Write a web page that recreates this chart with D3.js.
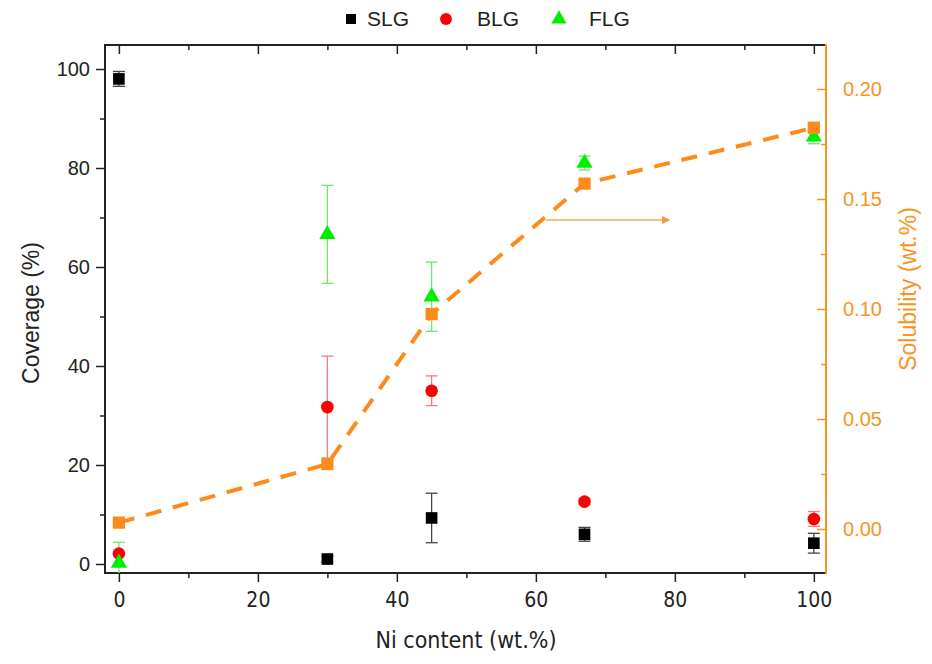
<!DOCTYPE html>
<html>
<head>
<meta charset="utf-8">
<script src="https://cdn.jsdelivr.net/npm/d3@7"></script>
<style>
  body { margin: 0; background: #fff; }
  text { font-family: "Liberation Sans", Arial, sans-serif; }
</style>
</head>
<body>
<div id="chart"></div>
<script>
// Ni content (wt.%)
const niContent = [0, 30, 45, 67, 100]

// coverage (%) with error
const slg = [98, 1.0, 9.3, 6.0, 4.2]
const slgErr = [1.5, 0.6, 5.0, 1.4, 2.0]
const blg = [2.1, 31.7, 35.0, 12.6, 9.1]
const blgErr = [0, 10.3, 3.0, 0.6, 1.5]
const flg = [0.2, 66.6, 54.0, 81.0, 86.3]
const flgErr = [4.2, 9.9, 7.0, 1.4, 1.4]

// solubility (wt.%) on right axis
const solubility = [0.0029, 0.0295, 0.0977, 0.157, 0.1824]

const xTicks = [0, 20, 40, 60, 80, 100]
const xMinor = [10, 30, 50, 70, 90]
const yTicks = [0, 20, 40, 60, 80, 100]
const yMinor = [10, 30, 50, 70, 90]
const y2Ticks = [0, 0.05, 0.10, 0.15, 0.20]
const y2Minor = [0.025, 0.075, 0.125, 0.175]

// annotation arrow pointing to right axis (x from, x to, solubility level)
const arrowFrom = 61.5, arrowTo = 79.2, arrowAt = 0.1405

function drawChart() {
   const width = 932,
         height = 664,
         left = 105, right = 826, top = 45, bottom = 573

   const orange = "#ff8a1c",
         axisOrange = "#f7941d"

   const x = d3.scaleLinear().domain([-2.0, 101.75]).range([left, right])
   const y = d3.scaleLinear().domain([-1.82, 104.85]).range([bottom, top])
   const y2 = d3.scaleLinear().domain([-0.02, 0.22]).range([bottom, top])

   const svg = d3.select("#chart")
                 .append("svg")
                 .attr("width", width)
                 .attr("height", height)

   svg.append("defs").append("clipPath").attr("id", "plotclip")
      .append("rect").attr("x", left).attr("y", top)
      .attr("width", right - left).attr("height", bottom - top)

   // bottom axis
   const xAxis = svg.append("g").attr("transform", "translate(0," + bottom + ")")
                    .call(d3.axisBottom(x).tickValues(xTicks).tickSize(9).tickSizeOuter(0).tickFormat(d3.format("d")))
   xAxis.select(".domain").remove()
   xAxis.selectAll(".tick line").attr("stroke", "#222").attr("stroke-width", 1.5)
   xAxis.selectAll(".tick text").attr("font-size", 21).attr("fill", "#222").attr("dy", "1.05em")
        .style("font-family", "'Liberation Sans Narrow', 'DejaVu Sans Condensed', sans-serif")
   svg.append("g").attr("transform", "translate(0," + bottom + ")")
      .call(d3.axisBottom(x).tickValues(xMinor).tickSize(5).tickFormat(""))
      .call(g => g.select(".domain").remove())
      .selectAll("line").attr("stroke", "#222").attr("stroke-width", 1.5)

   // top inward ticks
   svg.append("g").attr("transform", "translate(0," + top + ")")
      .call(d3.axisBottom(x).tickValues(xTicks).tickSize(9).tickFormat(""))
      .call(g => g.select(".domain").remove())
      .selectAll("line").attr("stroke", "#222").attr("stroke-width", 1.5)
   svg.append("g").attr("transform", "translate(0," + top + ")")
      .call(d3.axisBottom(x).tickValues(xMinor).tickSize(5).tickFormat(""))
      .call(g => g.select(".domain").remove())
      .selectAll("line").attr("stroke", "#222").attr("stroke-width", 1.5)

   // left axis
   const yAxis = svg.append("g").attr("transform", "translate(" + left + ",0)")
                    .call(d3.axisLeft(y).tickValues(yTicks).tickSize(9).tickSizeOuter(0))
   yAxis.select(".domain").remove()
   yAxis.selectAll(".tick line").attr("stroke", "#222").attr("stroke-width", 1.5)
   yAxis.selectAll(".tick text").attr("font-size", 20).attr("fill", "#222").attr("dx", "-0.15em")
   svg.append("g").attr("transform", "translate(" + left + ",0)")
      .call(d3.axisLeft(y).tickValues(yMinor).tickSize(5).tickFormat(""))
      .call(g => g.select(".domain").remove())
      .selectAll("line").attr("stroke", "#222").attr("stroke-width", 1.5)

   // right axis, orange, ticks inward
   const y2Axis = svg.append("g").attr("transform", "translate(" + right + ",0)")
                     .call(d3.axisLeft(y2).tickValues(y2Ticks).tickSize(9).tickSizeOuter(0).tickFormat(d3.format(".2f")))
   y2Axis.select(".domain").remove()
   y2Axis.selectAll(".tick line").attr("stroke", axisOrange).attr("stroke-width", 1.5)
   y2Axis.selectAll(".tick text").attr("font-size", 20).attr("fill", axisOrange)
         .attr("text-anchor", "start").attr("x", 17)
   svg.append("g").attr("transform", "translate(" + right + ",0)")
      .call(d3.axisLeft(y2).tickValues(y2Minor).tickSize(5).tickFormat(""))
      .call(g => g.select(".domain").remove())
      .selectAll("line").attr("stroke", axisOrange).attr("stroke-width", 1.5)

   // frame
   const frame = svg.append("g").attr("stroke-width", 2).attr("fill", "none")
   frame.append("path").attr("d", "M" + right + "," + top + "H" + left + "V" + bottom + "H" + right)
        .attr("stroke", "#222")
   frame.append("line").attr("x1", right).attr("x2", right).attr("y1", top - 1).attr("y2", bottom + 1)
        .attr("stroke", axisOrange)

   // axis titles
   svg.append("text").attr("transform", "translate(39," + ((top + bottom) / 2 + 4) + ") rotate(-90)")
      .attr("text-anchor", "middle").attr("font-size", 23).attr("fill", "#222").text("Coverage (%)")
   svg.append("text").attr("transform", "translate(916," + ((top + bottom) / 2 - 20) + ") rotate(-90)")
      .attr("text-anchor", "middle").attr("font-size", 23).attr("fill", axisOrange).text("Solubility (wt.%)")
   svg.append("text").attr("x", 466).attr("y", 648)
      .attr("text-anchor", "middle").attr("font-size", 23).attr("fill", "#222")
      .style("font-family", "'Liberation Sans Narrow', 'DejaVu Sans Condensed', sans-serif")
      .text("Ni content (wt.%)")

   // error bars
   function errorBars(vals, errs, color) {
      const g = svg.append("g").attr("stroke", color).attr("stroke-width", 1.3)
                   .attr("clip-path", "url(#plotclip)")
      niContent.forEach((n, i) => {
         if (!errs[i]) return
         const cx = x(n), y0 = y(vals[i] - errs[i]), y1 = y(vals[i] + errs[i])
         g.append("line").attr("x1", cx).attr("x2", cx).attr("y1", y0).attr("y2", y1)
         g.append("line").attr("x1", cx - 6).attr("x2", cx + 6).attr("y1", y0).attr("y2", y0)
         g.append("line").attr("x1", cx - 6).attr("x2", cx + 6).attr("y1", y1).attr("y2", y1)
      })
   }
   errorBars(flg, flgErr, "#66ee66")
   errorBars(blg, blgErr, "#ff7777")
   errorBars(slg, slgErr, "#444")

   // solubility dashed line
   const line = d3.line().x((d, i) => x(niContent[i])).y(d => y2(d))
   svg.append("path").datum(solubility).attr("d", line)
      .attr("fill", "none").attr("stroke", orange).attr("stroke-width", 4)
      .attr("stroke-dasharray", "16,12")

   // markers
   const sym = (type, size) => d3.symbol().type(type).size(size)()

   svg.selectAll(".slg").data(slg).enter().append("path")
      .attr("d", sym(d3.symbolSquare, 135))
      .attr("transform", (d, i) => "translate(" + x(niContent[i]) + "," + y(d) + ")")
      .attr("fill", "#000")

   svg.selectAll(".blg").data(blg).enter().append("path")
      .attr("d", sym(d3.symbolCircle, 125))
      .attr("transform", (d, i) => "translate(" + x(niContent[i]) + "," + y(d) + ")")
      .attr("fill", "#ff0000")

   svg.selectAll(".flg").data(flg).enter().append("path")
      .attr("d", sym(d3.symbolTriangle, 115))
      .attr("transform", (d, i) => "translate(" + x(niContent[i]) + "," + y(d) + ")")
      .attr("fill", "#00ee00")

   svg.selectAll(".sol").data(solubility).enter().append("path")
      .attr("d", sym(d3.symbolSquare, 150))
      .attr("transform", (d, i) => "translate(" + x(niContent[i]) + "," + y2(d) + ")")
      .attr("fill", orange)

   // arrow annotation
   svg.select("defs").append("marker").attr("id", "arrowhead")
      .attr("viewBox", "0 0 10 10").attr("refX", 9).attr("refY", 5)
      .attr("markerWidth", 10).attr("markerHeight", 8).attr("orient", "auto")
      .attr("markerUnits", "userSpaceOnUse")
      .append("path").attr("d", "M0,0 L10,5 L0,10 z").attr("fill", "#f5983c")
   svg.append("line")
      .attr("x1", x(arrowFrom)).attr("x2", x(arrowTo))
      .attr("y1", y2(arrowAt)).attr("y2", y2(arrowAt))
      .attr("stroke", "#f7a55a").attr("stroke-width", 1.5)
      .attr("marker-end", "url(#arrowhead)")

   // legend
   const legend = [
      {name: "SLG", type: d3.symbolSquare, size: 100, color: "#000", sx: 351, tx: 367},
      {name: "BLG", type: d3.symbolCircle, size: 110, color: "#ff0000", sx: 446, tx: 477},
      {name: "FLG", type: d3.symbolTriangle, size: 100, color: "#00ee00", sx: 559, tx: 589}
   ]
   const lg = svg.append("g")
   legend.forEach(l => {
      lg.append("path").attr("d", sym(l.type, l.size))
        .attr("transform", "translate(" + l.sx + ",19)").attr("fill", l.color)
      lg.append("text").attr("x", l.tx).attr("y", 26).attr("font-size", 21)
        .attr("fill", "#222").text(l.name)
   })
}

drawChart()
</script>
</body>
</html>
